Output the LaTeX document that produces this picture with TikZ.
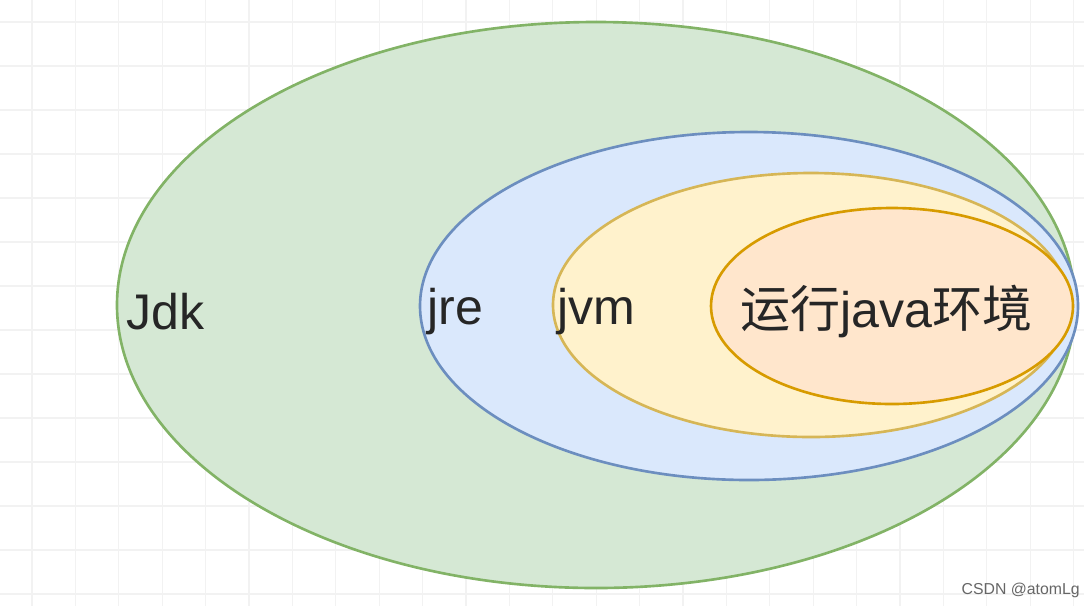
\documentclass[tikz,border=0pt]{standalone}
\usepackage{fontspec}
\setmainfont{Liberation Sans}
\newfontfamily\cjk{Noto Sans CJK SC}
\definecolor{gfill}{HTML}{D5E8D4}\definecolor{gline}{HTML}{82B366}
\definecolor{bfill}{HTML}{DAE8FC}\definecolor{bline}{HTML}{6C8EBF}
\definecolor{yfill}{HTML}{FFF2CC}\definecolor{yline}{HTML}{D6B656}
\definecolor{ofill}{HTML}{FFE6CC}\definecolor{oline}{HTML}{D79B00}
\begin{document}
\begin{tikzpicture}[x=0.02cm,y=-0.02cm,
  ell/.style={line width=1.5pt},
  lbl/.style={font=\fontsize{28.5}{32}\selectfont,text=black!85,inner sep=0pt,anchor=west}]
\useasboundingbox (0,0) rectangle (1084,606);
\foreach \i in {0,...,24} \draw[black!5,line width=0.6pt] ({32+43.4*\i},0) -- ({32+43.4*\i},606);
\foreach \i in {0,...,13} \draw[black!5,line width=0.6pt] (0,{22+44*\i}) -- (1084,{22+44*\i});
\fill[gfill,draw=gline,ell] (596,305) ellipse [x radius=479,y radius=283];
\fill[bfill,draw=bline,ell] (749,306) ellipse [x radius=329,y radius=174];
\fill[yfill,draw=yline,ell] (811,305) ellipse [x radius=258,y radius=132];
\fill[ofill,draw=oline,ell] (892,306) ellipse [x radius=181,y radius=98];
\node[lbl] (jdk) at (126,312) {Jdk};
\node[lbl] (jre) at (427,312) {jre};
\node[lbl] (jvm) at (557,312) {jvm};
\node[lbl] (env) at (740,312) {{\cjk 运行}java{\cjk 环境}};
\node[anchor=east,font=\fontsize{9}{10}\selectfont,text=black!60,inner sep=0pt] (wm) at (1080,590) {CSDN @atomLg};
\end{tikzpicture}
\end{document}
